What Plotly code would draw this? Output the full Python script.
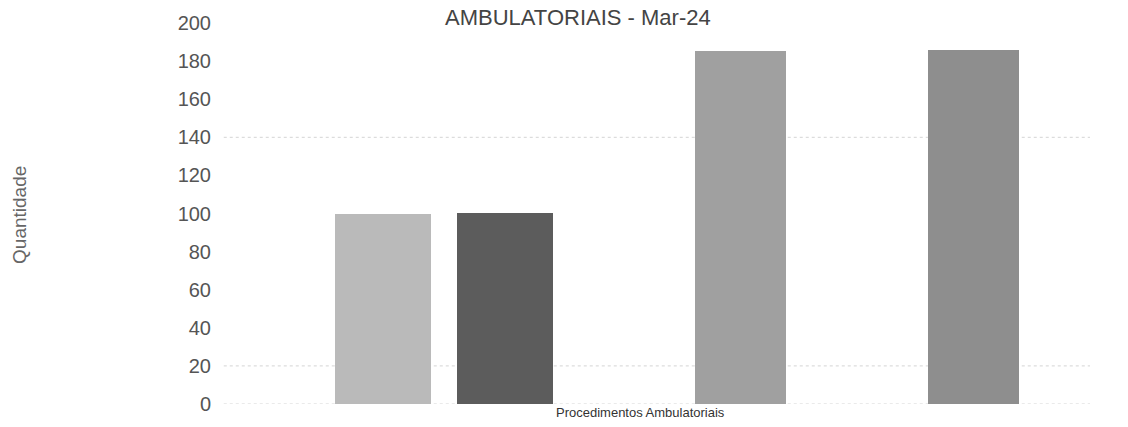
import plotly.graph_objects as go

# Data
series_names = ["Série 1", "Série 2", "Série 3", "Série 4"]
series_values = [100, 100.5, 185.5, 186]
series_colors = ["#bababa", "#5c5c5c", "#a0a0a0", "#8e8e8e"]
bar_positions = [167.5, 289.5, 525, 758]
bar_widths = [96, 96, 91, 91]
y_ticks = [0, 20, 40, 60, 80, 100, 120, 140, 160, 180, 200]
grid_levels = [0, 20, 140]

fig = go.Figure()
for name, val, col, pos, w in zip(series_names, series_values, series_colors, bar_positions, bar_widths):
    fig.add_trace(go.Bar(x=[pos], y=[val], width=[w], name=name,
                         marker=dict(color=col, line=dict(width=0)),
                         showlegend=False))

for g in grid_levels:
    fig.add_shape(type="line", xref="paper", x0=0.01, x1=1, yref="y", y0=g, y1=g,
                  line=dict(color="#d4d4d4", width=1, dash="dot"), layer="below")

fig.update_layout(
    width=1128, height=427,
    margin=dict(l=215, r=38, t=18, b=16),
    paper_bgcolor="white", plot_bgcolor="white",
    font=dict(family="Liberation Sans, Arial, sans-serif", color="#333333"),
    bargap=0,
    xaxis=dict(range=[0, 875], showticklabels=False, showgrid=False, zeroline=False,
               showline=False, ticks=""),
    yaxis=dict(range=[0, 200], tickvals=y_ticks, showgrid=False, zeroline=False,
               showline=False, ticks="", ticklabelstandoff=3,
               tickfont=dict(size=20, color="#555555")),
    annotations=[
        dict(text="AMBULATORIAIS - Mar-24", xref="paper", yref="paper", x=(578-215)/875, y=1,
             yshift=6, showarrow=False, xanchor="center", yanchor="middle",
             font=dict(size=22, color="#444444")),
        dict(text="Procedimentos Ambulatoriais", xref="paper", yref="paper", x=(640-215)/875, y=0,
             yshift=-8, showarrow=False, xanchor="center", yanchor="middle",
             font=dict(size=13, color="#333333")),
        dict(text="Quantidade", xref="paper", yref="paper", x=(20-215)/875, y=(411-216)/393,
             showarrow=False, textangle=-90, xanchor="center", yanchor="middle",
             font=dict(size=19, color="#666666")),
    ],
)

fig.write_html("out.html", config={"displayModeBar": False},
               post_script="document.body.style.margin='0';")
